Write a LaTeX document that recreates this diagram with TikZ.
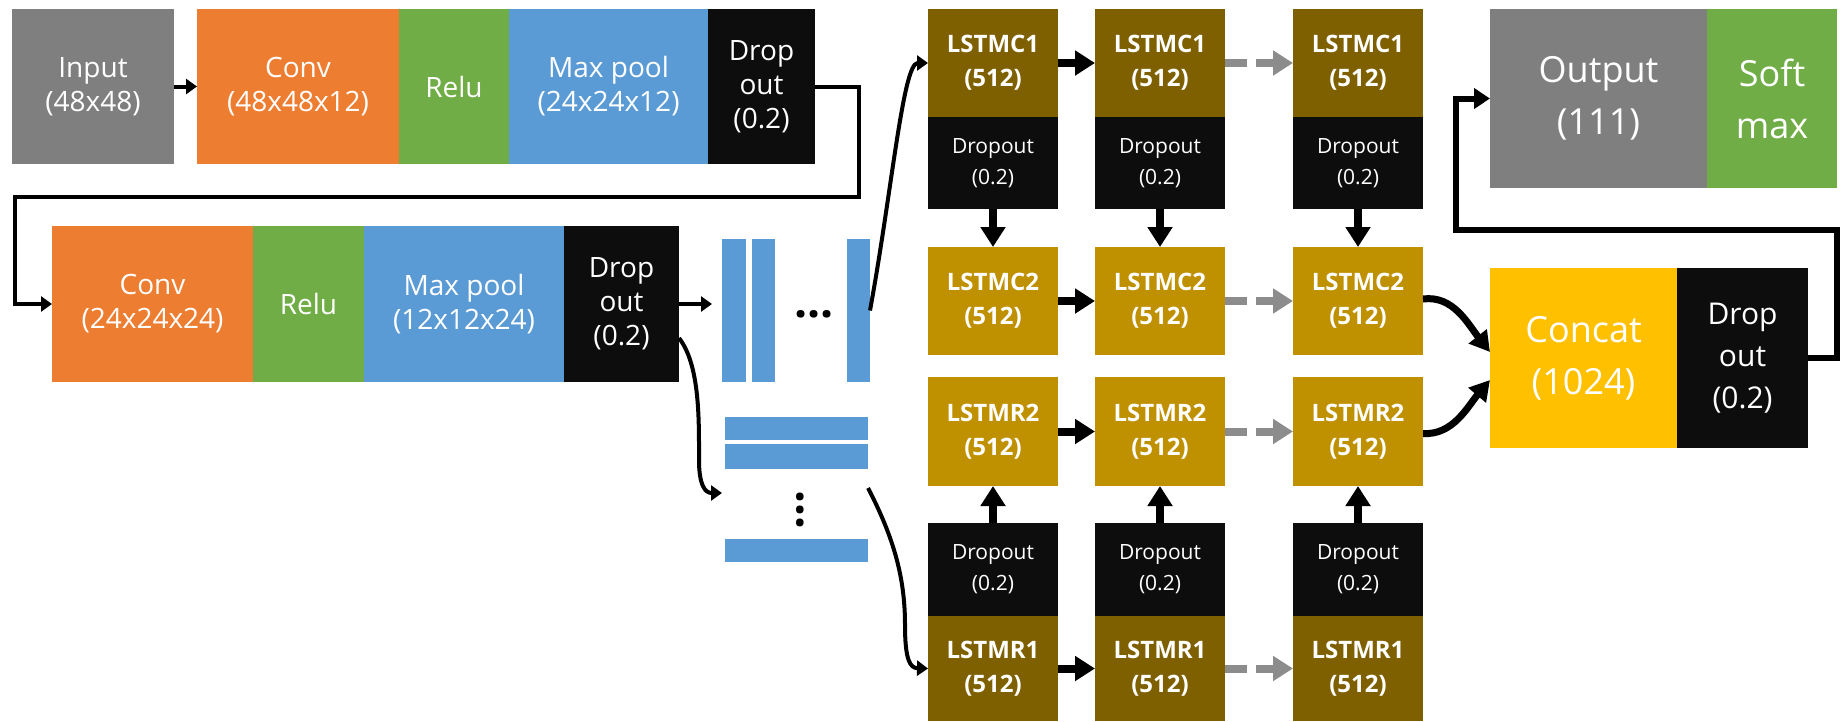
\documentclass[tikz,border=0pt]{standalone}
\usepackage{fontspec}
\setmainfont{Open Sans}
\usetikzlibrary{arrows.meta}
\definecolor{cgray}{HTML}{7F7F7F}
\definecolor{corange}{HTML}{ED7D31}
\definecolor{cgreen}{HTML}{70AD47}
\definecolor{cblue}{HTML}{5B9BD5}
\definecolor{cblack}{HTML}{0D0D0D}
\definecolor{cdgold}{HTML}{7F6000}
\definecolor{cgold}{HTML}{BF9000}
\definecolor{cyellow}{HTML}{FFC000}
\definecolor{arrgray}{HTML}{8C8C8C}
\begin{document}
\begin{tikzpicture}[x=1pt,y=-1pt,
  blk/.style={inner sep=0pt, outer sep=0pt, anchor=north west, text=white, align=center,
    font=\fontsize{28}{34}\selectfont},
  lstmbox/.style={blk, minimum width=130pt, font=\bfseries\fontsize{24}{34}\selectfont},
  dropbox/.style={blk, fill=cblack, minimum width=130pt, minimum height=92pt, font=\fontsize{21}{31}\selectfont},
  bigbox/.style={blk, font=\fontsize{36}{52}\selectfont},
  bar/.style={fill=cblue, inner sep=0pt, outer sep=0pt, anchor=north west},
  dotsnode/.style={anchor=base, inner sep=0pt, font=\bfseries\fontsize{46}{50}\selectfont},
  arr/.style={line width=4pt, -{Triangle[length=11pt,width=15pt]}},
  bigarr/.style={line width=8pt, -{Triangle[length=20pt,width=24pt]}},
  dasharr/.style={bigarr, draw=arrgray, color=arrgray, dash pattern=on 22pt off 9pt},
  carr/.style={line width=7pt, -{Triangle[length=20pt,width=22pt]}}
]
\useasboundingbox (0,0) rectangle (1841,721);

% ---- row 1
\node[blk, fill=cgray,   minimum width=162pt, minimum height=155pt] (in1)   at (12,9)  {Input\\(48x48)};
\node[blk, fill=corange, minimum width=202pt, minimum height=155pt] (conv1) at (197,9) {Conv\\(48x48x12)};
\node[blk, fill=cgreen,  minimum width=110pt, minimum height=155pt] (relu1) at (399,9) {Relu};
\node[blk, fill=cblue,   minimum width=199pt, minimum height=155pt] (pool1) at (509,9) {Max pool\\(24x24x12)};
\node[blk, fill=cblack,  minimum width=107pt, minimum height=155pt] (drop1) at (708,9) {Drop\\out\\(0.2)};

% ---- row 2
\node[blk, fill=corange, minimum width=201pt, minimum height=156pt] (conv2) at (52,226)  {Conv\\(24x24x24)};
\node[blk, fill=cgreen,  minimum width=111pt, minimum height=156pt] (relu2) at (253,226) {Relu};
\node[blk, fill=cblue,   minimum width=200pt, minimum height=156pt] (pool2) at (364,226) {Max pool\\(12x12x24)};
\node[blk, fill=cblack,  minimum width=115pt, minimum height=156pt] (drop2) at (564,226) {Drop\\out\\(0.2)};

% ---- feature bars
\node[bar, minimum width=24pt, minimum height=143pt] (bar1) at (722,239) {};
\node[bar, minimum width=23pt, minimum height=143pt] (bar2) at (752,239) {};
\node[bar, minimum width=23pt, minimum height=143pt] (bar3) at (847,239) {};
\node[dotsnode] (hdots) at (814,317) {...};
\node[bar, minimum width=143pt, minimum height=23pt] (hb1) at (725,417) {};
\node[bar, minimum width=143pt, minimum height=25pt] (hb2) at (725,444) {};
\node[dotsnode, rotate=90] (vdots) at (803,510) {...};
\node[bar, minimum width=143pt, minimum height=23pt] (hb3) at (725,539) {};

% ---- LSTM columns
\foreach \x/\n in {928/a,1095/b,1293/c}{
  \node[lstmbox, fill=cdgold, minimum height=108pt] (c1\n) at (\x,9)   {LSTMC1\\(512)};
  \node[dropbox] (d1\n) at (\x,117) {Dropout\\(0.2)};
  \node[lstmbox, fill=cgold,  minimum height=108pt] (c2\n) at (\x,247) {LSTMC2\\(512)};
  \node[lstmbox, fill=cgold,  minimum height=109pt] (r2\n) at (\x,377) {LSTMR2\\(512)};
  \node[dropbox, minimum height=93pt] (d2\n) at (\x,523) {Dropout\\(0.2)};
  \node[lstmbox, fill=cdgold, minimum height=105pt] (r1\n) at (\x,616) {LSTMR1\\(512)};
  \draw[bigarr] (d1\n.south) -- (c2\n.north);
  \draw[bigarr] (d2\n.north) -- (r2\n.south);
}
\foreach \r in {c1,c2,r2,r1}{
  \draw[bigarr] (\r a.east) -- (\r b.west);
  \draw[dasharr] (\r b.east) -- (\r c.west);
}

% ---- right side
\node[bigbox, fill=cgray,   minimum width=217pt, minimum height=179pt] (out)    at (1490,9)   {Output\\(111)};
\node[bigbox, fill=cgreen,  minimum width=130pt, minimum height=179pt] (soft)   at (1707,9)   {Soft\\max};
\node[bigbox, fill=cyellow, minimum width=187pt, minimum height=180pt] (concat) at (1490,268) {Concat\\(1024)};
\node[blk, fill=cblack, minimum width=131pt, minimum height=180pt, font=\fontsize{30}{42}\selectfont] (drop3) at (1677,268) {Drop\\out\\(0.2)};

% ---- connectors
\draw[arr] (in1.east) -- (conv1.west);
\draw[arr] (drop1.east) -- (859,86.5) -- (859,197) -- (15,197) -- (15,304) -- (conv2.west);
\draw[arr] (drop2.east) -- ([xshift=-10pt]bar1.west |- drop2.east);
\draw[arr] (bar3.east) .. controls +(22,-120) and +(-25,0) .. (c1a.west);
\coordinate (d2s) at (679,338);
\coordinate (hbt) at (722,493);
\draw[arr] (d2s) .. controls (700,365) and (699,420) .. (699,460) .. controls (699,485) and (705,493) .. (hbt);
\coordinate (bs) at (868,488);
\draw[arr] (bs) .. controls (895,540) and (905,580) .. (905,625) .. controls (905,660) and (910,668) .. (r1a.west);
\draw[carr] ([yshift=2pt]c2c.east) .. controls +(30,-4) and +(-22,-28) .. ([yshift=6pt]concat.west);
\draw[carr] ([yshift=-2pt]r2c.east) .. controls +(30,2) and +(-22,26) .. ([yshift=-22pt]concat.west);
\draw[line width=6pt, -{Triangle[length=16pt,width=20pt]}] (drop3.east) -- (1837,358) -- (1837,230) -- (1456,230) -- (1456,98.5) -- (out.west);
\end{tikzpicture}
\end{document}
